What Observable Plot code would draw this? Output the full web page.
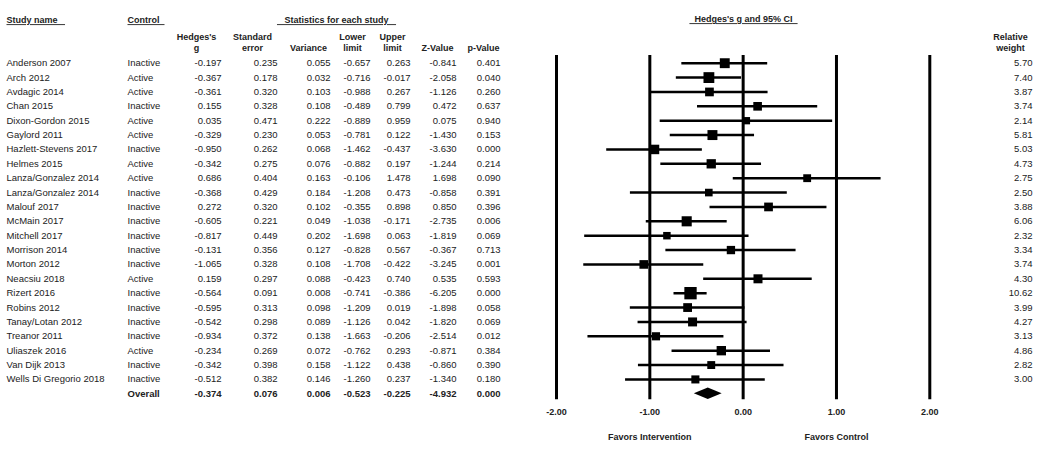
<!DOCTYPE html>
<html><head><meta charset="utf-8">
<script src="https://cdn.jsdelivr.net/npm/d3@7"></script>
<script src="https://cdn.jsdelivr.net/npm/@observablehq/plot@0.6"></script>
<style>body{margin:0;background:#fff}</style>
</head><body><div id="chart"></div>
<script>
const studies = ["Anderson 2007","Arch 2012","Avdagic 2014","Chan 2015","Dixon-Gordon 2015","Gaylord 2011","Hazlett-Stevens 2017","Helmes 2015","Lanza/Gonzalez 2014","Lanza/Gonzalez 2014","Malouf 2017","McMain 2017","Mitchell 2017","Morrison 2014","Morton 2012","Neacsiu 2018","Rizert 2016","Robins 2012","Tanay/Lotan 2012","Treanor 2011","Uliaszek 2016","Van Dijk 2013","Wells Di Gregorio 2018"];
const control = ["Inactive","Active","Active","Inactive","Active","Active","Inactive","Active","Active","Inactive","Inactive","Inactive","Inactive","Inactive","Inactive","Active","Inactive","Inactive","Inactive","Inactive","Active","Inactive","Inactive"];
const hedgesG = [-0.197,-0.367,-0.361,0.155,0.035,-0.329,-0.950,-0.342,0.686,-0.368,0.272,-0.605,-0.817,-0.131,-1.065,0.159,-0.564,-0.595,-0.542,-0.934,-0.234,-0.342,-0.512];
const stdErr = [0.235,0.178,0.320,0.328,0.471,0.230,0.262,0.275,0.404,0.429,0.320,0.221,0.449,0.356,0.328,0.297,0.091,0.313,0.298,0.372,0.269,0.398,0.382];
const variance = [0.055,0.032,0.103,0.108,0.222,0.053,0.068,0.076,0.163,0.184,0.102,0.049,0.202,0.127,0.108,0.088,0.008,0.098,0.089,0.138,0.072,0.158,0.146];
const lowerLimit = [-0.657,-0.716,-0.988,-0.489,-0.889,-0.781,-1.462,-0.882,-0.106,-1.208,-0.355,-1.038,-1.698,-0.828,-1.708,-0.423,-0.741,-1.209,-1.126,-1.663,-0.762,-1.122,-1.260];
const upperLimit = [0.263,-0.017,0.267,0.799,0.959,0.122,-0.437,0.197,1.478,0.473,0.898,-0.171,0.063,0.567,-0.422,0.740,-0.386,0.019,0.042,-0.206,0.293,0.438,0.237];
const zValue = [-0.841,-2.058,-1.126,0.472,0.075,-1.430,-3.630,-1.244,1.698,-0.858,0.850,-2.735,-1.819,-0.367,-3.245,0.535,-6.205,-1.898,-1.820,-2.514,-0.871,-0.860,-1.340];
const pValue = [0.401,0.040,0.260,0.637,0.940,0.153,0.000,0.214,0.090,0.391,0.396,0.006,0.069,0.713,0.001,0.593,0.000,0.058,0.069,0.012,0.384,0.390,0.180];
const relWeight = [5.70,7.40,3.87,3.74,2.14,5.81,5.03,4.73,2.75,2.50,3.88,6.06,2.32,3.34,3.74,4.30,10.62,3.99,4.27,3.13,4.86,2.82,3.00];
const overallLabel = "Overall";
const overallStats = {g:-0.374, se:0.076, variance:0.006, lower:-0.523, upper:-0.225, z:-4.932, p:0.000};
const xTicks = [-2,-1,0,1,2];
const favorLabels = ["Favors Intervention","Favors Control"];
const favorAt = [-1, 1];

const rows = studies.map((s,i)=>({i, study:s, control:control[i], g:hedgesG[i], se:stdErr[i], variance:variance[i], lower:lowerLimit[i], upper:upperLimit[i], z:zValue[i], p:pValue[i], weight:relWeight[i]}));
const overallRow = {i: rows.length, ...overallStats};
const diamond = [
  {x: overallStats.lower, y1: overallRow.i, y2: overallRow.i},
  {x: overallStats.g, y1: overallRow.i - 0.4, y2: overallRow.i + 0.4},
  {x: overallStats.upper, y1: overallRow.i, y2: overallRow.i}
];

const W = 1050, H = 461;
const FONT = "'Liberation Sans', Arial, Helvetica, sans-serif";
const f3 = v => v.toFixed(3);
const cols = [["g",221],["se",277],["variance",330],["lower",370],["upper",410],["z",456],["p",500]];
const BODY = 9.5, HEAD = 9;

const hdr = (t, x, y, anchor="middle", extra={}) => Plot.text([t], {text: d=>d, frameAnchor:"top-left", dx:x, dy:y, textAnchor:anchor, fontWeight:"bold", fontSize:HEAD, lineHeight:1.2, ...extra});

const marks = [
  Plot.ruleX(xTicks, {x: d=>d, y1: -0.54, y2: 23.42, strokeWidth: 3, stroke:"#000"}),
  Plot.ruleY(rows, {x1:"lower", x2:"upper", y:"i", strokeWidth: 2.6, stroke:"#000"}),
  Plot.dot(rows, {x:"g", y:"i", r: d=>Math.sqrt(d.weight), symbol:"square", fill:"#000", stroke:null}),
  Plot.areaY(diamond, {x:"x", y1:"y1", y2:"y2", fill:"#000"}),
  Plot.axisX(xTicks, {anchor:"bottom", tickSize:0, tickPadding:3, tickFormat: d=>d.toFixed(2), fontWeight:"bold", fontSize:HEAD, label:null}),
  Plot.text(favorLabels, {text: d=>d, x: (d,i)=>favorAt[i], frameAnchor:"bottom", dy:34, fontWeight:"bold", fontSize:HEAD}),
  // table body
  Plot.text(rows, {y:"i", text:"study", frameAnchor:"left", dx:6, textAnchor:"start", fontSize:BODY}),
  Plot.text(rows, {y:"i", text:"control", frameAnchor:"left", dx:127, textAnchor:"start", fontSize:BODY}),
  ...cols.map(([k,x]) => Plot.text(rows, {y:"i", text: d=>f3(d[k]), frameAnchor:"left", dx:x, textAnchor:"end", fontSize:BODY})),
  Plot.text([overallRow], {y:"i", text: ()=>overallLabel, frameAnchor:"left", dx:127, textAnchor:"start", fontSize:BODY, fontWeight:"bold"}),
  ...cols.map(([k,x]) => Plot.text([overallRow], {y:"i", text: d=>f3(d[k]), frameAnchor:"left", dx:x, textAnchor:"end", fontSize:BODY, fontWeight:"bold"})),
  Plot.text(rows, {y:"i", text: d=>d.weight.toFixed(2), frameAnchor:"left", dx:1032, textAnchor:"end", fontSize:BODY}),
  // headers
  hdr("Study name\u00a0\u00a0\u00a0", 6, 15, "start"),
  hdr("Control\u00a0\u00a0", 127, 15, "start"),
  hdr("\u00a0\u00a0\u00a0Statistics for each study\u00a0\u00a0\u00a0", 336, 15),
  hdr("Hedges's\ng", 196, 32),
  hdr("Standard\nerror", 252, 32),
  hdr("Variance", 308, 43),
  hdr("Lower\nlimit", 352, 32),
  hdr("Upper\nlimit", 392, 32),
  hdr("Z-Value", 437, 43),
  hdr("p-Value", 483, 43),
  hdr("\u00a0\u00a0Hedges's g and 95% CI\u00a0\u00a0", 743, 14),
  hdr("Relative\nweight", 1010, 32)
];

const chart = Plot.plot({
  width: W, height: H,
  marginTop: 0, marginLeft: 0, marginRight: 0, marginBottom: 56,
  x: {domain:[-2,2], range:[556,929.3]},
  y: {domain:[0,23], range:[62.7,393.3], axis:null},
  r: {type:"linear", domain:[0,4], range:[1.81, 8.13]},
  style: {fontFamily: FONT, color:"#222", background:"#fff"},
  marks
});
document.getElementById("chart").appendChild(chart);
const underlined = ["Study name","Control","Statistics for each study","Hedges's g and 95% CI"];
chart.querySelectorAll("text").forEach(t => {
  const s = t.textContent.replace(/\u00a0/g,"").trim();
  if (underlined.includes(s)) t.style.textDecoration = "underline";
});
</script>
</body></html>
